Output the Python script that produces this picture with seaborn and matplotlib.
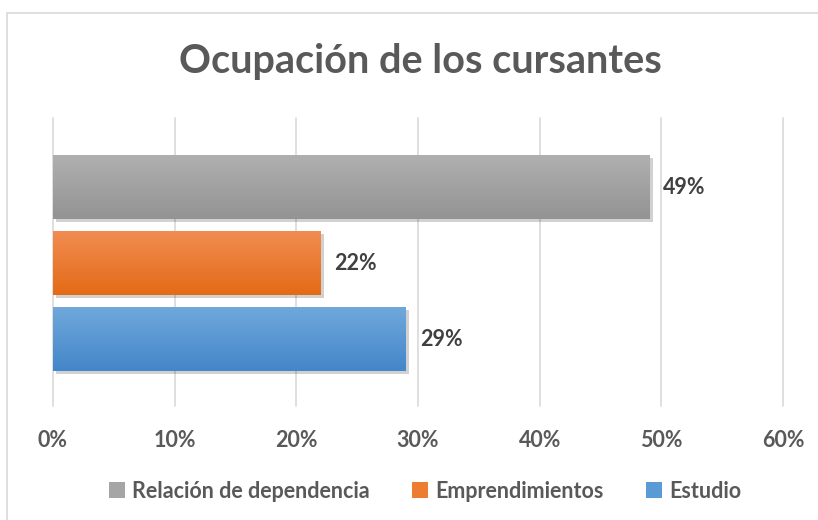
import numpy as np
import pandas as pd
import matplotlib
matplotlib.use("Agg")
import matplotlib.pyplot as plt
import seaborn as sns
from matplotlib.colors import LinearSegmentedColormap
from matplotlib.patches import Rectangle, Patch
import matplotlib.patheffects as pe

# ---- data ----
categories = ["Relación de dependencia", "Emprendimientos", "Estudio"]
values = [0.49, 0.22, 0.29]
tick_values = [0.0, 0.1, 0.2, 0.3, 0.4, 0.5, 0.6]
tick_labels = ["0%", "10%", "20%", "30%", "40%", "50%", "60%"]
title = "Ocupación de los cursantes"

colors_mid = ["#A5A5A5", "#ED7D31", "#5B9BD5"]
colors_top = ["#B0B0B0", "#F28C52", "#70A8DC"]
colors_bottom = ["#939393", "#E36B16", "#4386C9"]

sns.set_theme(style="white")
plt.rcParams['font.family'] = ['Lato', 'DejaVu Sans']

W, H = 818, 520
fig = plt.figure(figsize=(W / 100, H / 100), dpi=100)
ax = fig.add_axes([53 / W, 1 - 406 / H, (783 - 53) / W, (406 - 118) / H])

df = pd.DataFrame({"cat": categories, "val": values})
sns.barplot(data=df, y="cat", x="val", hue="cat", hue_order=categories,
            order=categories, palette=colors_mid, orient="h",
            width=64 / 76, dodge=False, legend=False, ax=ax, zorder=3,
            linewidth=0, edgecolor="none")

ax.set_xlim(0, 0.6)
ax.set_ylim(2 + 67 / 76, -69 / 76)

# gradient fill + shadow on each bar
for p in ax.patches:
    yc = p.get_y() + p.get_height() / 2
    idx = int(round(yc))
    if idx < 0 or idx >= len(categories):
        continue
    p.set_linewidth(0)
    p.set_path_effects([pe.SimplePatchShadow(offset=(2.5, -2.5), shadow_rgbFace="black", alpha=0.18),
                        pe.Normal()])
    cmap = LinearSegmentedColormap.from_list("g", [colors_top[idx], colors_bottom[idx]])
    grad = np.linspace(0, 1, 128).reshape(-1, 1)
    x0, x1 = p.get_x(), p.get_x() + p.get_width()
    y0, y1 = p.get_y(), p.get_y() + p.get_height()
    ax.imshow(grad, cmap=cmap, extent=[x0, x1, y1, y0], origin="upper",
              aspect="auto", zorder=3.5, interpolation="bilinear")

ax.set_xlim(0, 0.6)
ax.set_ylim(2 + 67 / 76, -69 / 76)

# data labels
for c in ax.containers:
    ax.bar_label(c, labels=[f"{v * 100:.0f}%" for v in c.datavalues], padding=10,
                 fontsize=15.5, fontweight="bold", color="#404040", zorder=5)

# axes styling
for s in ax.spines.values():
    s.set_visible(False)
ax.set_xticks(tick_values, tick_labels)
ax.set_yticks([])
ax.set_xlabel("")
ax.set_ylabel("")
ax.grid(axis="x", color="#D9D9D9", linewidth=1.2, zorder=0)
ax.grid(axis="y", visible=False)
ax.set_axisbelow(True)
for gl in ax.get_xgridlines():
    gl.set_clip_on(False)
ax.tick_params(axis="x", length=0, pad=17, labelsize=15.5, labelcolor="#595959")
for t in ax.get_xticklabels():
    t.set_fontweight("bold")

# title
fig.text(420 / W, 1 - 62 / H, title, ha="center", va="center",
         fontsize=28.5, fontweight="bold", color="#595959")

# legend
handles = [Patch(facecolor=c, edgecolor="none") for c in colors_mid]
fig.legend(handles, categories, loc="center", bbox_to_anchor=(425 / W, 1 - 491 / H),
           ncol=3, frameon=False, handlelength=0.75, handleheight=0.75,
           handletextpad=0.3, columnspacing=2.0,
           prop={"size": 15.5, "weight": "bold"}, labelcolor="#595959")

# chart border
fig.add_artist(Rectangle((7 / W, -0.1), 1.0, 1.1 - 13 / H, transform=fig.transFigure,
                         fill=False, edgecolor="#D9D9D9", linewidth=1.2))

fig.savefig("out.png", dpi=100, facecolor="white")
